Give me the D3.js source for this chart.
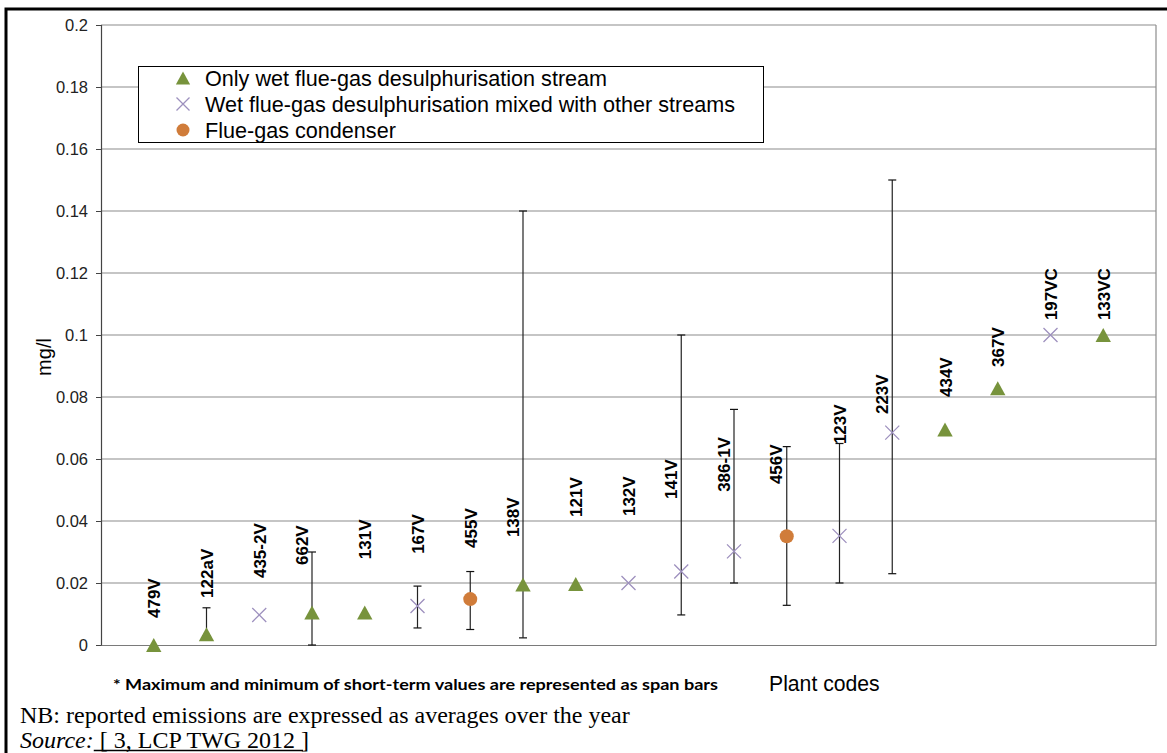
<!DOCTYPE html>
<html><head><meta charset="utf-8">
<script src="https://cdn.jsdelivr.net/npm/d3@7/dist/d3.min.js"></script>
<style>
html,body{margin:0;padding:0;background:#fff;}
svg{display:block;}
</style></head>
<body>
<svg id="chart" width="1167" height="753"></svg>
<script>
// ---- data ----
const codes = ["479V","122aV","435-2V","662V","131V","167V","455V","138V","121V","132V","141V","386-1V","456V","123V","223V","434V","367V","197VC","133VC"];
const streams = ["wet","wet","mixed","wet","wet","mixed","cond","wet","wet","mixed","mixed","mixed","cond","mixed","mixed","wet","wet","mixed","wet"];
const averages = [0, 0.0035, 0.0097, 0.0105, 0.0105, 0.0126, 0.0148, 0.0195, 0.0197, 0.02, 0.0237, 0.0302, 0.0351, 0.0352, 0.0685, 0.0695, 0.0828, 0.1, 0.1];
const spanMax = [null, 0.012, null, 0.03, null, 0.019, 0.0237, 0.14, null, null, 0.1, 0.076, 0.064, 0.065, 0.15, null, null, null, null];
const spanMin = [null, 0.003, null, 0, null, 0.0055, 0.005, 0.0023, null, null, 0.0097, 0.02, 0.0128, 0.02, 0.023, null, null, null, null];
const labelLevels = [0.0087, 0.0152, 0.0216, 0.0258, 0.0277, 0.0294, 0.0313, 0.0348, 0.0413, 0.0416, 0.0471, 0.0494, 0.0519, 0.0648, 0.0745, 0.08, 0.0897, 0.1048, 0.1048];
const yTicks = [0, 0.02, 0.04, 0.06, 0.08, 0.1, 0.12, 0.14, 0.16, 0.18, 0.2];
const legendItems = [
  {key:"wet", label:"Only wet flue-gas desulphurisation stream"},
  {key:"mixed", label:"Wet flue-gas desulphurisation mixed with other streams"},
  {key:"cond", label:"Flue-gas condenser"}
];
const yTitle = "mg/l";
const xTitle = "Plant codes";
const spanNote = "* Maximum and minimum of short-term values are represented as span bars";
const nbNote = "NB: reported emissions are expressed as averages over the year";
const sourceRef = "[ 3, LCP TWG 2012 ]";

// ---- layout ----
const svg = d3.select("#chart");
const X0 = 101, X1 = 1156, Y0 = 25, Y1 = 645;
const x = d3.scalePoint().domain(codes).range([X0, X1]).padding(1);
const y = d3.scaleLinear().domain([0, 0.2]).range([Y1, Y0]);
const colors = {wet:"#77933C", mixed:"#9D90BE", cond:"#D07C3A"};

// outer frame
svg.append("path").attr("d","M6,760 V9 H1175").attr("fill","none").attr("stroke","#000").attr("stroke-width",3);

// gridlines
svg.append("g").selectAll("line").data(yTicks.filter(d=>d>0)).join("line")
  .attr("x1",X0).attr("x2",X1).attr("y1",d=>y(d)).attr("y2",d=>y(d))
  .attr("stroke","#8c8c8c").attr("stroke-width",1.2);
// right border
svg.append("line").attr("x1",X1).attr("x2",X1).attr("y1",Y0).attr("y2",Y1).attr("stroke","#8c8c8c").attr("stroke-width",1.2);

// y axis
const yAxis = d3.axisLeft(y).tickValues(yTicks).tickSize(5).tickPadding(8)
  .tickFormat(d => String(+d.toFixed(2)));
const gy = svg.append("g").attr("transform",`translate(${X0},0)`).call(yAxis);
gy.select(".domain").attr("stroke","#444").attr("stroke-width",1.2);
gy.selectAll(".tick line").attr("stroke","#444");
gy.selectAll("text").attr("font-family","Arial, 'Liberation Sans', sans-serif").attr("font-size",16.5).attr("fill","#222");

// x axis (baseline)
const xAxis = d3.axisBottom(x).tickSize(0).tickFormat("");
const gx = svg.append("g").attr("transform",`translate(0,${Y1})`).call(xAxis);
gx.select(".domain").attr("stroke","#7a7a7a").attr("stroke-width",1.2);

// y title
svg.append("text").attr("transform","translate(51,357) rotate(-90)").attr("text-anchor","middle")
  .attr("font-family","Arial, 'Liberation Sans', sans-serif").attr("font-size",20).attr("fill","#000").text(yTitle);

// data rows
const rows = codes.map((c,i)=>({code:c, stream:streams[i], v:averages[i], hi:spanMax[i], lo:spanMin[i], lab:labelLevels[i]}));

// span bars
const bars = svg.append("g").selectAll("g").data(rows.filter(d=>d.hi!=null)).join("g");
bars.append("line").attr("x1",d=>x(d.code)).attr("x2",d=>x(d.code)).attr("y1",d=>y(d.hi)).attr("y2",d=>y(d.lo)).attr("stroke","#222").attr("stroke-width",1.2);
bars.append("line").attr("x1",d=>x(d.code)-4).attr("x2",d=>x(d.code)+4).attr("y1",d=>y(d.hi)).attr("y2",d=>y(d.hi)).attr("stroke","#111").attr("stroke-width",1.2);
bars.append("line").attr("x1",d=>x(d.code)-4).attr("x2",d=>x(d.code)+4).attr("y1",d=>y(d.lo)).attr("y2",d=>y(d.lo)).attr("stroke","#111").attr("stroke-width",1.2);

// markers
function drawMarker(g, kind, cx, cy, s){
  if(kind==="wet"){
    const w = s*1.1, h = s;
    g.append("path").attr("d",`M${cx},${cy-h/2} L${cx+w/2},${cy+h/2} L${cx-w/2},${cy+h/2} Z`).attr("fill",colors.wet);
  } else if(kind==="mixed"){
    const r = s/2;
    g.append("path").attr("d",`M${cx-r},${cy-r} L${cx+r},${cy+r} M${cx-r},${cy+r} L${cx+r},${cy-r}`)
      .attr("stroke",colors.mixed).attr("stroke-width",1.3).attr("fill","none");
  } else {
    g.append("circle").attr("cx",cx).attr("cy",cy).attr("r",s/2).attr("fill",colors.cond);
  }
}
const mg = svg.append("g");
rows.forEach(d => drawMarker(mg, d.stream, x(d.code), y(d.v), 14));

// data labels
svg.append("g").selectAll("text").data(rows).join("text")
  .attr("transform", d => {
    const shift = (d.hi!=null && d.hi > d.lab + 0.001) ? -11 : 0;
    return `translate(${x(d.code)+shift+6.5},${y(d.lab)}) rotate(-90)`;
  })
  .attr("font-family","Arial, 'Liberation Sans', sans-serif").attr("font-weight","bold").attr("font-size",17).attr("fill","#000")
  .text(d=>d.code);

// legend
const lg = svg.append("g");
lg.append("rect").attr("x",138.5).attr("y",66.5).attr("width",625).attr("height",76).attr("fill","#fff").attr("stroke","#000").attr("stroke-width",1);
legendItems.forEach((it,i)=>{
  const cy = 78 + i*26;
  drawMarker(lg, it.key, 183, cy, 13);
  lg.append("text").attr("x",205).attr("y",cy+7.5).attr("font-family","Arial, 'Liberation Sans', sans-serif").attr("font-size",21.6).attr("fill","#000").text(it.label);
});

// captions
svg.append("text").attr("x",113).attr("y",690).attr("font-family","Lato, 'Open Sans', sans-serif").attr("font-weight","bold").attr("font-size",16)
  .attr("textLength",605).attr("lengthAdjust","spacingAndGlyphs").attr("fill","#000").text(spanNote);
svg.append("text").attr("x",769).attr("y",691).attr("font-family","Arial, 'Liberation Sans', sans-serif").attr("font-size",21.2).attr("fill","#000").text(xTitle);
svg.append("text").attr("x",20).attr("y",723).attr("font-family","'Times New Roman', 'Liberation Serif', serif").attr("font-size",24).attr("fill","#000").text(nbNote);
const src = svg.append("text").attr("x",20).attr("y",748).attr("font-family","'Times New Roman', 'Liberation Serif', serif").attr("font-size",24).attr("fill","#000");
src.append("tspan").attr("font-style","italic").text("Source:");
const refSpan = src.append("tspan").attr("dx",6).text(sourceRef);
// underline the reference
const bb = refSpan.node().getBBox ? null : null;
const fullLen = src.node().getComputedTextLength();
const refLen = refSpan.node().getComputedTextLength();
svg.append("line").attr("x1",20+fullLen-refLen).attr("x2",20+fullLen).attr("y1",750.5).attr("y2",750.5)
  .attr("stroke","#000").attr("stroke-width",1.3);
</script>
</body></html>
